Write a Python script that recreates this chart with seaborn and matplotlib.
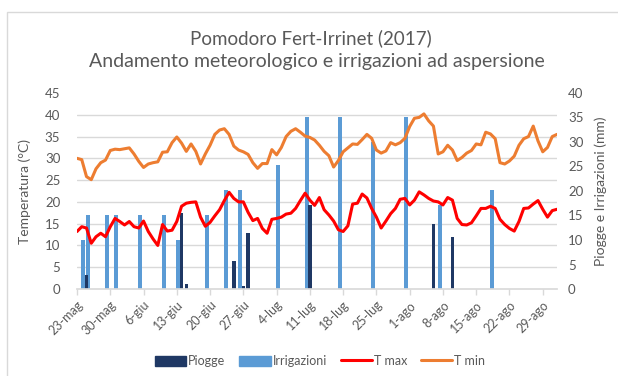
import numpy as np
import pandas as pd
import matplotlib
matplotlib.use("Agg")
import matplotlib.pyplot as plt
import seaborn as sns
from matplotlib.patches import Patch, Rectangle
from matplotlib.lines import Line2D

sns.set_theme(style="white")
plt.rcParams["font.family"] = ["Lato", "DejaVu Sans"]

# Daily series, 23 May - 1 Sep 2017
start_date = "2017-05-23"
t_max = [13.2, 14.3, 14.0, 10.5, 12.0, 12.8, 12.0, 14.3, 16.2, 15.5,
         14.7, 15.5, 14.3, 14.0, 15.6, 13.2, 11.5, 10.0, 14.8, 13.3,
         13.5, 15.5, 19.0, 19.7, 19.9, 20.0, 16.5, 14.4, 15.3, 16.8,
         18.2, 20.3, 22.2, 20.8, 20.0, 20.0, 17.6, 15.7, 16.2, 13.9,
         12.8, 16.0, 16.2, 16.5, 17.2, 17.4, 18.5, 20.3, 22.0, 20.4,
         19.2, 21.0, 18.2, 17.0, 15.6, 13.6, 13.2, 14.5, 19.5, 19.7,
         21.8, 20.9, 18.5, 16.5, 14.0, 15.6, 17.3, 18.5, 20.6, 20.8,
         19.3, 20.4, 22.3, 21.6, 20.8, 20.2, 20.0, 19.3, 21.0, 20.4,
         16.2, 14.8, 14.7, 15.2, 16.8, 18.5, 18.5, 19.0, 18.5, 16.0,
         14.8, 13.9, 13.3, 15.5, 18.5, 18.6, 19.5, 20.3, 18.3, 16.5,
         18.0, 18.3]
t_min = [30.0, 29.7, 25.8, 25.1, 27.6, 29.0, 29.6, 31.8, 32.1, 32.0,
         32.2, 32.4, 31.0, 29.3, 27.9, 28.7, 29.0, 29.2, 31.4, 31.5,
         33.6, 34.9, 33.5, 31.6, 33.3, 31.6, 28.7, 31.0, 33.0, 35.5,
         36.5, 36.8, 35.5, 32.8, 31.9, 31.5, 30.9, 29.0, 27.7, 28.8,
         28.8, 32.0, 30.8, 32.5, 35.0, 36.2, 36.8, 36.0, 35.1, 34.8,
         34.2, 33.0, 31.6, 30.6, 28.0, 29.5, 31.5, 32.4, 33.3, 33.2,
         34.3, 35.5, 34.6, 31.9, 31.2, 31.7, 33.6, 33.1, 33.6, 34.6,
         37.3, 39.2, 39.4, 40.2, 38.6, 37.4, 31.0, 31.5, 33.0, 31.9,
         29.5, 30.2, 31.2, 31.8, 33.3, 33.1, 36.0, 35.6, 34.5, 29.0,
         28.7, 29.4, 30.5, 33.0, 34.5, 35.0, 37.4, 34.0, 31.5, 32.5,
         35.0, 35.5]

# Irrigation events (mm)
irr_dates = ["2017-05-24", "2017-05-25", "2017-05-29", "2017-05-31",
             "2017-06-05", "2017-06-10", "2017-06-13", "2017-06-19",
             "2017-06-23", "2017-06-26", "2017-07-04", "2017-07-10",
             "2017-07-17", "2017-07-24", "2017-07-31", "2017-08-07",
             "2017-08-18"]
irr_mm = [10.0, 15.2, 15.2, 15.2, 15.2, 15.2, 10.0, 15.2, 20.2, 20.2,
          25.3, 35.2, 35.2, 30.1, 35.2, 17.1, 20.2]

# Rainfall events (mm)
rain_dates = ["2017-05-25", "2017-06-14", "2017-06-15", "2017-06-25",
              "2017-06-27", "2017-06-28", "2017-07-11", "2017-08-06",
              "2017-08-10"]
rain_mm = [2.9, 15.5, 1.1, 5.7, 0.7, 11.4, 17.2, 13.2, 10.6]

tick_labels = ["23-mag", "30-mag", "6-giu", "13-giu", "20-giu", "27-giu",
               "4-lug", "11-lug", "18-lug", "25-lug", "1-ago", "8-ago",
               "15-ago", "22-ago", "29-ago"]

C_RAIN = "#1f3864"
C_IRR = "#5b9bd5"
C_TMAX = "#ff0000"
C_TMIN = "#ed7d31"
C_TEXT = "#595959"
C_GRID = "#d9d9d9"

t0 = pd.Timestamp(start_date)
days = np.arange(len(t_max))
irr_df = pd.DataFrame({"day": (pd.to_datetime(irr_dates) - t0).days + 0.3,
                       "mm": irr_mm})
rain_df = pd.DataFrame({"day": (pd.to_datetime(rain_dates) - t0).days + 0.0,
                        "mm": rain_mm})

fig = plt.figure(figsize=(6.18, 3.76), dpi=100)
fig.patch.set_facecolor("white")
ax_t = fig.add_axes([77 / 618, 1 - 289 / 376, 480 / 618, 196 / 376])
ax_b = ax_t.twinx()
ax_t.set_zorder(ax_b.get_zorder() + 1)
ax_t.patch.set_visible(False)

# Bars on the secondary (mm) axis
sns.barplot(data=irr_df, x="day", y="mm", native_scale=True, color=C_IRR,
            saturation=1, width=0.85, errorbar=None, linewidth=0, ax=ax_b)
sns.barplot(data=rain_df, x="day", y="mm", native_scale=True, color=C_RAIN,
            saturation=1, width=0.75, errorbar=None, linewidth=0, ax=ax_b)

# Temperature lines
sns.lineplot(x=days, y=t_max, color=C_TMAX, lw=2.2, ax=ax_t)
sns.lineplot(x=days, y=t_min, color=C_TMIN, lw=2.2, ax=ax_t)

ax_t.set_xlim(0, len(t_max) - 1)
ax_t.set_ylim(0, 45)
ax_b.set_ylim(0, 40)
ax_t.set_yticks(np.arange(0, 46, 5))
ax_b.set_yticks(np.arange(0, 41, 5))
ax_b.set_yticks(np.linspace(0, 40, 10), minor=True)
ax_b.grid(which="minor", axis="y", color=C_GRID, lw=1)
ax_b.grid(which="major", visible=False)
ax_b.tick_params(axis="y", which="minor", length=0)

ax_t.set_xticks(np.arange(0, 7 * len(tick_labels), 7))
ax_t.set_xticklabels(tick_labels, rotation=45, ha="right",
                     rotation_mode="anchor")
ax_t.tick_params(axis="x", length=4, width=1, color=C_GRID, colors=C_TEXT,
                 labelsize=9, pad=3, direction="out", bottom=True)
ax_t.tick_params(axis="y", length=0, colors=C_TEXT, labelsize=9.5, pad=12)
ax_b.tick_params(axis="y", length=0, colors=C_TEXT, labelsize=9.5, pad=8)

for ax in (ax_t, ax_b):
    for side in ("top", "left", "right", "bottom"):
        ax.spines[side].set_visible(False)
ax_t.spines["bottom"].set_visible(True)
ax_t.spines["bottom"].set_color(C_GRID)

ax_t.set_xlabel("")
ax_b.set_xlabel("")
ax_t.set_ylabel("Temperatura (°C)", color=C_TEXT, fontsize=10)
ax_b.set_ylabel("Piogge e Irrigazioni (mm)", color=C_TEXT, fontsize=10)
ax_t.yaxis.set_label_coords(-0.096, 0.5)
ax_b.yaxis.set_label_coords(1.078, 0.5)

fig.text(0.503, 1 - 38 / 376, "Pomodoro Fert-Irrinet (2017)", ha="center",
         va="center", fontsize=13.5, color=C_TEXT)
fig.text(0.513, 1 - 62 / 376,
         "Andamento meteorologico e irrigazioni ad aspersione", ha="center",
         va="center", fontsize=14, color=C_TEXT)

handles = [Patch(facecolor=C_RAIN, edgecolor=C_RAIN),
           Patch(facecolor=C_IRR, edgecolor=C_IRR),
           Line2D([], [], color=C_TMAX, lw=2.2),
           Line2D([], [], color=C_TMIN, lw=2.2)]
fig.legend(handles, ["Piogge", "Irrigazioni", "T max", "T min"],
           loc="center", bbox_to_anchor=(320 / 618, 1 - 361 / 376), ncol=4,
           frameon=False, fontsize=9, labelcolor=C_TEXT, handlelength=2.5,
           handleheight=0.9, handletextpad=0.15, columnspacing=1.1)

fig.add_artist(Rectangle((7 / 618, -0.1), 1.2, 1.1 - 12 / 376,
                         transform=fig.transFigure, fill=False,
                         edgecolor=C_GRID, lw=1))

fig.savefig("out.png", dpi=100, facecolor="white")
